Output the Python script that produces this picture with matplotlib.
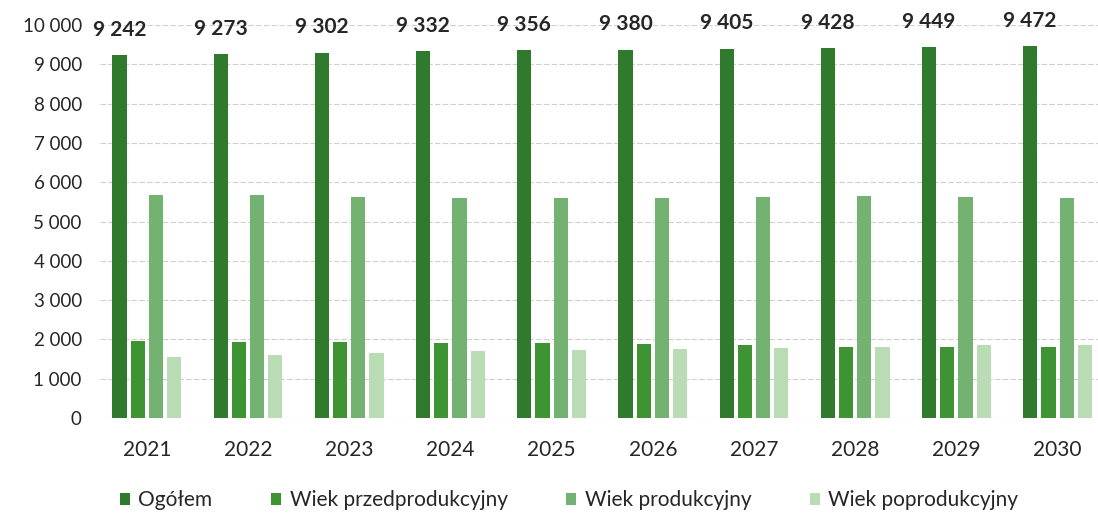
import matplotlib.pyplot as plt
from matplotlib.ticker import FuncFormatter
import numpy as np

plt.rcParams['font.family'] = ['Lato', 'DejaVu Sans']

years = ['2021', '2022', '2023', '2024', '2025', '2026', '2027', '2028', '2029', '2030']
ogolem = [9242, 9273, 9302, 9332, 9356, 9380, 9405, 9428, 9449, 9472]
przed = [1965, 1935, 1935, 1915, 1900, 1880, 1850, 1815, 1815, 1800]
prod = [5680, 5675, 5630, 5600, 5590, 5590, 5615, 5650, 5615, 5600]
post = [1560, 1610, 1655, 1700, 1730, 1760, 1775, 1815, 1850, 1865]

series = [
    ('Ogółem', ogolem, '#2f7a2c'),
    ('Wiek przedprodukcyjny', przed, '#3e9432'),
    ('Wiek produkcyjny', prod, '#74b272'),
    ('Wiek poprodukcyjny', post, '#b9dcb4'),
]

fig = plt.figure(figsize=(10.98, 5.14), dpi=100)
ax = fig.add_axes([0.091, 0.187, 0.909, 0.764])

x = np.arange(len(years))
width = 0.14
pitch = 0.18
offsets = [-1.5, -0.5, 0.5, 1.5]

for (name, vals, col), off in zip(series, offsets):
    ax.bar(x + off * pitch, vals, width, color=col, label=name, zorder=3)

# labels above the total bars
for xi, v in zip(x, ogolem):
    ax.text(xi - 1.5 * pitch, v + 640, f'{v:,}'.replace(',', ' '),
            ha='center', va='center', fontsize=15, fontweight='bold',
            color='#262626', clip_on=False)

ax.set_ylim(0, 10000)
ax.set_xlim(-0.464, 9.4)
ax.set_yticks(range(0, 10001, 1000))
ax.yaxis.set_major_formatter(FuncFormatter(lambda v, p: f'{int(v):,}'.replace(',', ' ')))
ax.set_xticks(x)
ax.set_xticklabels(years)
ax.tick_params(axis='both', length=0, colors='#262626')
ax.tick_params(axis='x', pad=16, labelsize=15)
ax.tick_params(axis='y', pad=13, labelsize=13.5)
ax.grid(axis='y', color='#d0d0d0', lw=0.8, ls=(0, (5, 2)), zorder=0)
for s in ax.spines.values():
    s.set_visible(False)

ax.legend(loc='center', bbox_to_anchor=(0.47, -0.21), ncol=4, frameon=False,
          fontsize=15, handlelength=0.5, handleheight=0.5, handletextpad=0.4,
          columnspacing=2.8, labelcolor='#262626')

fig.savefig('out.png', dpi=100)
